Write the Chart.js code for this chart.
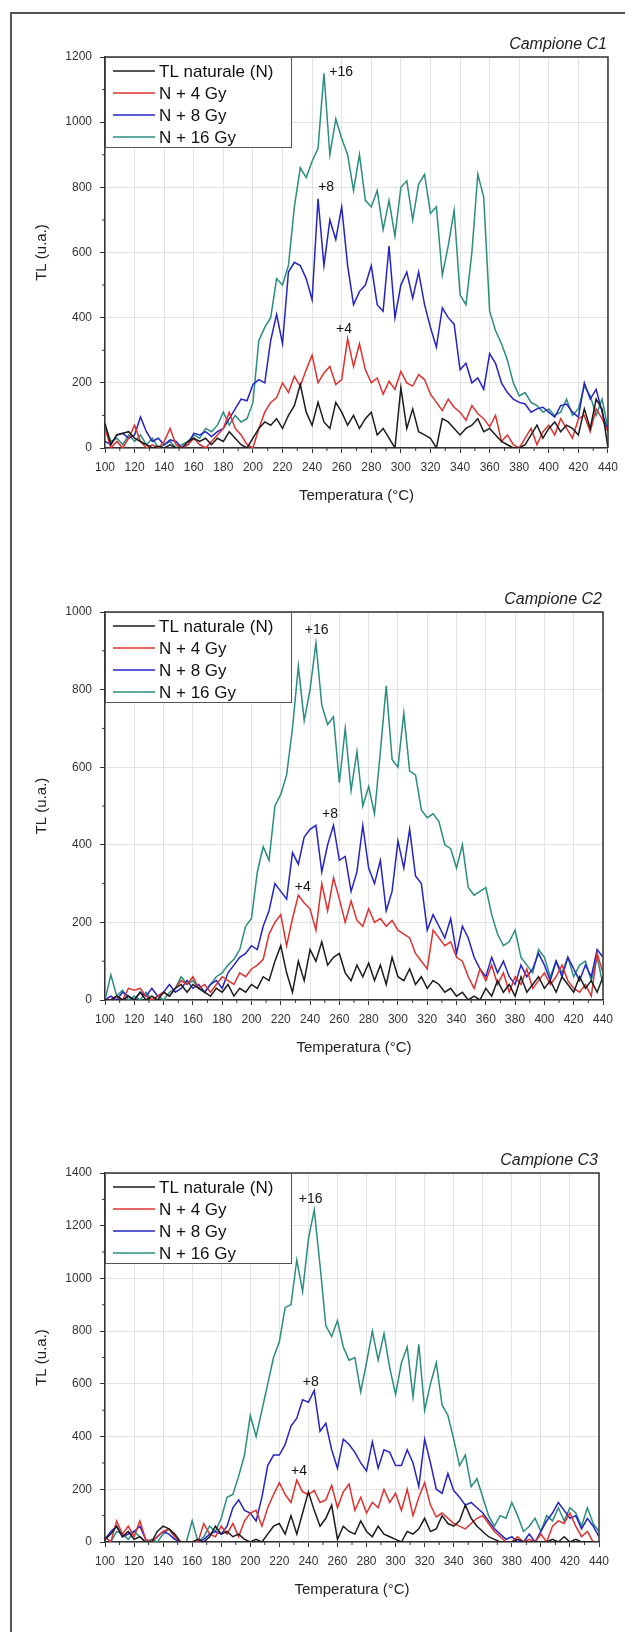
<!DOCTYPE html>
<html><head><meta charset="utf-8">
<script src="https://cdn.jsdelivr.net/npm/chart.js@4.4.1/dist/chart.umd.min.js"></script>
<style>
html,body{margin:0;padding:0;background:#fff;}
body{width:625px;height:1632px;position:relative;overflow:hidden;}
#frame{position:absolute;left:10px;top:12px;width:700px;height:1700px;border-left:2px solid #555;border-top:2px solid #555;}
.wrap{position:absolute;left:0;width:625px;}
canvas{display:block;}
</style></head><body>
<div id="frame"></div>
<div class="wrap" style="top:0px;height:520px"><canvas id="c1" width="625" height="520" style="width:625px;height:520px"></canvas></div>
<div class="wrap" style="top:530px;height:540px"><canvas id="c2" width="625" height="540" style="width:625px;height:540px"></canvas></div>
<div class="wrap" style="top:1080px;height:552px"><canvas id="c3" width="625" height="552" style="width:625px;height:552px"></canvas></div>
<script>
const temps = [100,104,108,112,116,120,124,128,132,136,
140,144,148,152,156,160,164,168,172,176,
180,184,188,192,196,200,204,208,212,216,
220,224,228,232,236,240,244,248,252,256,
260,264,268,272,276,280,284,288,292,296,
300,304,308,312,316,320,324,328,332,336,
340,344,348,352,356,360,364,368,372,376,
380,384,388,392,396,400,404,408,412,416,
420,424,428,432,436,440];

const seriesLabels = ['TL naturale (N)', 'N + 4 Gy', 'N + 8 Gy', 'N + 16 Gy'];
const seriesColors = ['#1c1c1c', '#e0302f', '#2424c4', '#2a8d80'];
const xTicks = [100,120,140,160,180,200,220,240,260,280,300,320,340,360,380,400,420,440];

// ---- Campione C1 ----
const c1Natural = [75,10,40,45,50,30,20,10,0,5,
0,10,0,0,20,30,20,30,10,30,
20,50,30,10,0,30,60,80,70,90,
60,100,130,195,110,70,140,80,60,140,
110,70,100,60,90,110,40,60,30,0,
185,60,120,50,40,30,0,90,80,60,
40,60,70,90,50,60,40,20,10,0,
0,10,40,70,30,60,80,50,70,60,
40,120,60,150,120,0];
const c1Gy4 = [60,0,20,0,30,70,20,0,10,0,
20,60,10,0,10,30,10,0,20,40,
60,110,60,40,10,0,60,110,140,155,
200,170,220,190,240,285,200,230,250,195,
210,335,250,320,240,200,215,165,205,180,
235,200,190,225,210,165,140,115,150,125,
110,85,130,105,90,65,100,20,40,10,
0,30,60,10,50,70,40,90,60,30,
90,100,50,120,90,50];
const c1Gy8 = [20,10,40,45,30,40,95,50,20,30,
10,25,20,0,10,45,40,50,35,50,
60,90,120,150,145,195,210,200,330,410,
320,540,570,560,520,455,765,560,700,640,
740,560,440,480,500,560,440,420,620,400,
500,540,460,540,440,370,310,430,400,380,
240,260,200,215,180,290,260,200,170,150,
140,135,110,120,125,110,95,130,135,110,
95,200,150,180,110,50];
const c1Gy16 = [70,20,30,10,40,20,40,10,30,0,
10,20,0,10,20,40,30,60,50,70,
110,70,100,80,90,140,330,370,400,520,
500,560,740,860,830,880,920,1150,900,1010,
950,900,790,900,760,740,790,670,760,650,
800,820,700,810,840,720,740,530,620,730,
470,440,600,840,770,420,360,320,270,200,
160,170,140,130,110,120,100,110,150,100,
120,190,160,100,150,60];
const c1AnnotTemps = [259.6, 249.5, 261.6];
const c1AnnotValues = [1153, 800, 365];
const c1AnnotLabels = ['+16', '+8', '+4'];

// ---- Campione C2 ----
const c2Natural = [0,0,10,0,10,0,20,0,10,0,
20,10,30,40,20,40,30,20,10,30,
20,40,10,30,20,40,30,60,50,100,
140,70,20,100,50,130,100,150,90,110,
120,70,50,90,60,95,50,90,40,110,
60,50,80,40,60,30,50,40,20,30,
10,20,0,10,0,30,10,50,20,40,
10,60,20,40,60,30,50,20,60,40,
20,60,30,50,20,60];
const c2Gy4 = [0,0,10,0,30,25,30,10,0,10,
20,10,30,50,40,60,30,40,20,40,
60,50,40,70,60,80,90,105,170,200,
220,140,210,270,250,235,180,300,230,315,
260,200,255,205,190,235,200,210,190,205,
180,170,160,120,100,80,180,160,140,150,
110,100,60,30,80,50,90,40,70,20,
60,40,80,30,50,70,40,60,90,50,
30,20,40,10,120,70];
const c2Gy8 = [0,10,0,20,10,0,20,10,30,10,
20,40,20,30,50,30,40,20,40,50,
30,70,90,110,120,140,130,190,230,300,
280,260,380,350,420,440,450,330,400,450,
360,370,280,330,450,340,300,360,230,280,
410,340,440,320,300,180,220,190,160,210,
120,190,160,110,80,60,110,70,100,60,
40,90,60,80,120,90,50,100,60,110,
80,50,90,60,130,110];
const c2Gy16 = [0,65,10,25,0,10,0,20,0,10,
0,20,30,60,40,50,30,20,40,60,
70,90,105,130,190,210,330,395,360,500,
530,580,700,860,720,800,920,760,710,730,
560,700,540,640,500,550,480,640,810,620,
600,740,590,580,490,470,480,460,400,390,
340,400,290,270,280,290,220,170,140,150,
180,110,90,70,130,110,60,100,70,110,
60,90,100,50,110,40];
const c2AnnotTemps = [244.5, 253.6, 235];
const c2AnnotValues = [954, 479, 292];
const c2AnnotLabels = ['+16', '+8', '+4'];

// ---- Campione C3 ----
const c3Natural = [10,30,60,20,40,10,20,0,0,40,
60,50,30,0,0,0,10,0,20,60,
30,40,20,30,10,0,10,0,30,60,
70,30,100,30,110,190,120,60,90,140,
10,60,40,30,80,40,20,60,30,20,
10,0,40,30,50,90,40,50,100,70,
60,80,140,90,60,40,20,10,0,0,
0,10,0,0,0,0,0,10,0,20,
0,10,0,0,0,0];
const c3Gy4 = [20,0,80,30,60,20,80,10,0,20,
40,50,20,0,0,0,0,70,30,20,
60,30,70,20,80,110,120,60,130,180,
225,180,150,235,190,180,195,150,160,215,
130,190,220,120,170,110,150,130,200,150,
185,120,200,100,170,225,140,95,110,90,
70,60,50,70,90,100,70,40,20,0,
0,20,0,10,0,30,0,60,80,70,
110,60,20,40,0,0];
const c3Gy8 = [10,40,60,20,30,40,60,10,0,20,
40,30,10,0,0,0,0,10,30,40,
30,60,130,160,120,110,80,170,290,330,
330,370,440,470,540,530,575,420,450,350,
280,390,370,340,300,270,380,280,350,340,
290,290,350,300,210,390,300,200,185,260,
195,170,140,150,130,110,80,50,30,10,
20,0,0,30,0,40,80,110,150,120,
90,100,50,90,60,20];
const c3Gy16 = [20,0,40,30,10,40,20,0,10,0,
30,50,20,0,0,80,0,20,60,40,
90,170,180,250,330,480,400,500,600,700,
760,890,900,1070,950,1150,1260,1050,820,780,
840,740,690,700,570,680,800,690,790,660,
560,680,740,550,750,500,600,680,520,480,
390,290,330,210,240,170,100,60,100,90,
150,100,40,60,90,40,100,80,130,80,
130,110,60,130,70,40];
const c3AnnotTemps = [241.6, 241.6, 233.5];
const c3AnnotValues = [1301, 607, 267];
const c3AnnotLabels = ['+16', '+8', '+4'];

const FONT = "Arial, 'Liberation Sans', sans-serif";

const deco = {
  id: 'deco',
  afterDraw(chart, args, o) {
    const {ctx, chartArea: a, scales: {x, y}} = chart;
    ctx.save();
    ctx.strokeStyle = '#333'; ctx.lineWidth = 1.5;
    ctx.beginPath();
    ctx.moveTo(a.left, a.top); ctx.lineTo(a.right, a.top); ctx.lineTo(a.right, a.bottom);
    ctx.stroke();
    ctx.lineWidth = 1;
    ctx.beginPath();
    for (let v = x.min + 10; v < x.max; v += 20) {
      const px = x.getPixelForValue(v);
      ctx.moveTo(px, a.bottom); ctx.lineTo(px, a.bottom + 3);
    }
    for (let v = 100; v < y.max; v += 200) {
      const py = y.getPixelForValue(v);
      ctx.moveTo(a.left, py); ctx.lineTo(a.left - 3, py);
    }
    ctx.stroke();
    ctx.fillStyle = '#222';
    ctx.font = 'italic 16px ' + FONT;
    ctx.textAlign = 'right'; ctx.textBaseline = 'middle';
    ctx.fillText(o.sample, a.right - 1, a.top - 12);
    ctx.font = '14px ' + FONT;
    ctx.textAlign = 'center';
    ctx.fillStyle = '#111';
    o.annotTemps.forEach((t, i) => {
      ctx.fillText(o.annotLabels[i], x.getPixelForValue(t), y.getPixelForValue(o.annotValues[i]));
    });
    const lw = 186, lh = 90;
    ctx.fillStyle = '#fff';
    ctx.fillRect(a.left, a.top, lw, lh);
    ctx.strokeStyle = '#555'; ctx.lineWidth = 1;
    ctx.strokeRect(a.left + 0.5, a.top + 0.5, lw, lh);
    ctx.font = '17px ' + FONT;
    ctx.textAlign = 'left';
    chart.data.datasets.forEach((ds, i) => {
      const yy = a.top + 14 + i * 22;
      ctx.strokeStyle = ds.borderColor; ctx.lineWidth = 1.5;
      ctx.beginPath(); ctx.moveTo(a.left + 8, yy); ctx.lineTo(a.left + 50, yy); ctx.stroke();
      ctx.fillStyle = '#111';
      ctx.fillText(ds.label, a.left + 54, yy + 1);
    });
    ctx.restore();
  }
};

function makeChart(id, series, ymax, pad, sample, annotTemps, annotValues, annotLabels) {
  return new Chart(document.getElementById(id), {
    type: 'line',
    data: {
      datasets: series.map((vals, i) => ({
        label: seriesLabels[i],
        data: temps.map((t, j) => ({x: t, y: vals[j]})),
        borderColor: seriesColors[i],
        backgroundColor: seriesColors[i],
        borderWidth: 1.5,
        pointRadius: 0,
        tension: 0,
        fill: false
      }))
    },
    options: {
      responsive: false,
      animation: false,
      events: [],
      layout: {padding: {left: 0, right: pad.r, top: pad.t, bottom: pad.b}},
      plugins: {
        legend: {display: false},
        tooltip: {enabled: false},
        deco: {sample, annotTemps, annotValues, annotLabels}
      },
      scales: {
        x: {
          type: 'linear', min: 100, max: 440,
          afterBuildTicks: s => { s.ticks = xTicks.map(v => ({value: v})); },
          ticks: {autoSkip: false, maxRotation: 0, color: '#333', font: {family: FONT, size: 12}, padding: 7,
                  callback: v => String(v)},
          grid: {color: '#e3e3e3', lineWidth: 1, tickColor: '#333', tickLength: 5},
          border: {color: '#333', width: 1.5},
          title: {display: true, text: 'Temperatura (°C)', color: '#222', font: {family: FONT, size: 15}, padding: {top: 0, bottom: 3}},
          afterFit: s => { s.height = 60; }
        },
        y: {
          min: 0, max: ymax,
          ticks: {stepSize: 200, color: '#333', font: {family: FONT, size: 12}, padding: 8,
                  callback: v => String(v)},
          grid: {color: '#e3e3e3', lineWidth: 1, tickColor: '#333', tickLength: 5},
          border: {color: '#333', width: 1.5},
          title: {display: true, text: 'TL (u.a.)', color: '#222', font: {family: FONT, size: 15}, padding: {top: 33, bottom: 0}},
          afterFit: s => { s.width = 105; }
        }
      }
    },
    plugins: [deco]
  });
}

makeChart('c1', [c1Natural, c1Gy4, c1Gy8, c1Gy16], 1200, {r: 15, t: 57, b: 12}, 'Campione C1', c1AnnotTemps, c1AnnotValues, c1AnnotLabels);
makeChart('c2', [c2Natural, c2Gy4, c2Gy8, c2Gy16], 1000, {r: 22, t: 82, b: 10}, 'Campione C2', c2AnnotTemps, c2AnnotValues, c2AnnotLabels);
makeChart('c3', [c3Natural, c3Gy4, c3Gy8, c3Gy16], 1400, {r: 26, t: 93, b: 30}, 'Campione C3', c3AnnotTemps, c3AnnotValues, c3AnnotLabels);
</script>
</body></html>
